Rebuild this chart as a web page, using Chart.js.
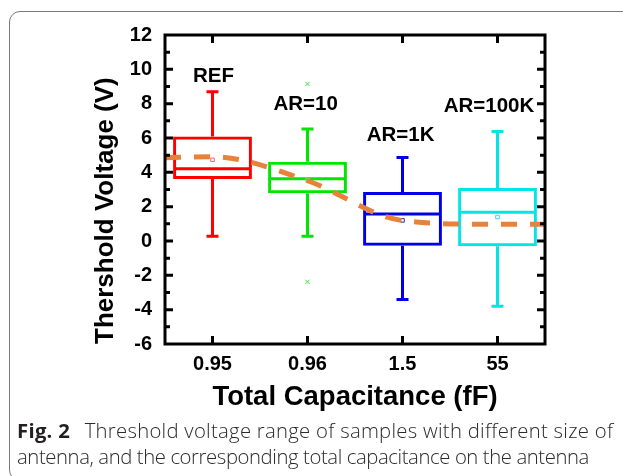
<!DOCTYPE html>
<html>
<head>
<meta charset="utf-8">
<script src="https://cdn.jsdelivr.net/npm/chart.js@4.4.0/dist/chart.umd.min.js"></script>
<style>
  html, body { margin: 0; padding: 0; background: #fff; }
  #wrap { position: relative; width: 623px; height: 476px; overflow: hidden; }
  #frame { position: absolute; left: 9px; top: 11px; width: 680px; height: 470px; border: 1.5px solid #7a7a7a; border-radius: 11px; box-sizing: border-box; }
  #chart { position: absolute; left: 0; top: 0; }
  #caption { position: absolute; left: 17px; top: 417px; font-family: "Open Sans", "Noto Sans", sans-serif; font-weight: 300; font-size: 20.3px; line-height: 26px; color: #2a2a2a; white-space: nowrap; }
  #caption b { font-weight: 700; margin-right: 9px; color: #231f20; }
  #caption .l1 { letter-spacing: 0.28px; }
  #caption .l2 { letter-spacing: -0.4px; }
</style>
</head>
<body>
<div id="wrap">
  <div id="frame"></div>
  <canvas id="chart" width="623" height="476"></canvas>
  <div id="caption"><span class="l1"><b>Fig. 2</b> Threshold voltage range of samples with different size of</span><br><span class="l2">antenna, and the corresponding total capacitance on the antenna</span></div>
</div>
<script>
// ─── Data ─────────────────────────────────────────
const categories  = ["0.95", "0.96", "1.5", "55"];
const groupNames  = ["REF", "AR=10", "AR=1K", "AR=100K"];
const whiskerLow  = [0.27, 0.27, -3.41, -3.80];
const boxLow      = [3.61, 2.78, -0.27, -0.31];
const median      = [4.21, 3.63, 1.58, 1.67];
const boxHigh     = [6.09, 4.62, 2.85, 3.09];
const whiskerHigh = [8.70, 6.52, 4.87, 6.38];
const meanValue   = [4.73, 3.55, 1.20, 1.40];
const outlierCat  = ["0.96", "0.96"];
const outlierVal  = [9.15, -2.38];
const trendPos    = [-0.5, 0, 1, 2, 3, 3.5];
const trendVal    = [4.85, 4.91, 3.51, 1.19, 0.97, 0.97];
const labelX      = [0.01, -0.02, -0.02, -0.09];
const labelY      = [9.62, 7.96, 6.16, 7.87];
const yMin = -6, yMax = 12, yStep = 2;

const boxColors  = ["#ff0000", "#00e600", "#0000e6", "#00e6e6"];
const meanColors = ["#ff6060", "#60ee60", "#303090", "#40d0e0"];
const FONT = "'Liberation Sans', Arial, sans-serif";

Chart.defaults.font.family = FONT;
Chart.defaults.color = "#000";

// ─── Box details, frame, inward ticks, labels ─────
const boxPlotPlugin = {
  id: "boxPlot",
  afterDatasetDraw(chart, args) {
    if (args.index !== 0) return;
    const { ctx, scales: { y } } = chart;
    const meta = chart.getDatasetMeta(0);
    ctx.save();
    ctx.lineWidth = 3;
    ctx.lineCap = "butt";
    meta.data.forEach((bar, i) => {
      const cx = bar.x;
      const half = bar.width / 2;
      const cap = 6;
      const yHi = y.getPixelForValue(whiskerHigh[i]);
      const yLo = y.getPixelForValue(whiskerLow[i]);
      ctx.strokeStyle = boxColors[i];
      ctx.beginPath();
      ctx.moveTo(cx - half + 1.5, y.getPixelForValue(median[i]));
      ctx.lineTo(cx + half - 1.5, y.getPixelForValue(median[i]));
      ctx.moveTo(cx, y.getPixelForValue(boxHigh[i]));
      ctx.lineTo(cx, yHi);
      ctx.moveTo(cx, y.getPixelForValue(boxLow[i]));
      ctx.lineTo(cx, yLo);
      ctx.moveTo(cx - cap, yHi); ctx.lineTo(cx + cap, yHi);
      ctx.moveTo(cx - cap, yLo); ctx.lineTo(cx + cap, yLo);
      ctx.stroke();
    });
    ctx.restore();
  },
  afterDraw(chart) {
    const { ctx, chartArea: a, scales: { x, xt, y } } = chart;
    ctx.save();
    ctx.strokeStyle = "#000";
    ctx.lineWidth = 3;
    ctx.strokeRect(a.left, a.top, a.right - a.left, a.bottom - a.top);
    ctx.beginPath();
    for (let v = yMin + 1; v < yMax; v++) {
      const py = y.getPixelForValue(v);
      const len = v % yStep === 0 ? 8 : 5;
      ctx.moveTo(a.left, py); ctx.lineTo(a.left + len, py);
      ctx.moveTo(a.right, py); ctx.lineTo(a.right - len, py);
    }
    categories.forEach((c, i) => {
      const px = x.getPixelForValue(i);
      ctx.moveTo(px, a.top); ctx.lineTo(px, a.top + 8);
      ctx.moveTo(px, a.bottom); ctx.lineTo(px, a.bottom - 8);
    });
    ctx.stroke();

    ctx.fillStyle = "#000";
    ctx.font = "bold 20.5px " + FONT;
    ctx.textAlign = "center";
    ctx.textBaseline = "middle";
    groupNames.forEach((g, i) => {
      ctx.fillText(g, xt.getPixelForValue(i + labelX[i]), y.getPixelForValue(labelY[i]));
    });
    ctx.restore();
  }
};

new Chart(document.getElementById("chart"), {
  type: "bar",
  data: {
    labels: categories,
    datasets: [
      {
        label: "box",
        data: boxLow.map((v, i) => [v, boxHigh[i]]),
        backgroundColor: "rgba(255,255,255,0)",
        borderColor: boxColors,
        borderWidth: 3,
        borderSkipped: false,
        grouped: false,
        barPercentage: 0.83,
        categoryPercentage: 1,
        order: 3
      },
      {
        type: "line",
        label: "mean",
        data: meanValue,
        showLine: false,
        pointStyle: "rect",
        pointRadius: 2.5,
        borderWidth: 1,
        pointBorderColor: meanColors,
        pointBackgroundColor: "rgba(255,255,255,0)",
        order: 2
      },
      {
        type: "line",
        label: "outliers",
        data: outlierCat.map((c, i) => ({ x: c, y: outlierVal[i] })),
        showLine: false,
        pointStyle: "crossRot",
        pointRadius: 3,
        borderWidth: 1,
        pointBorderColor: "#40dd40",
        order: 2
      },
      {
        type: "line",
        label: "trend",
        xAxisID: "xt",
        data: trendPos.map((p, i) => ({ x: p, y: trendVal[i] })),
        borderColor: "#e8823a",
        borderWidth: 5,
        borderDash: [16, 13],
        pointRadius: 0,
        cubicInterpolationMode: "monotone",
        fill: false,
        order: 0
      }
    ]
  },
  options: {
    responsive: false,
    animation: false,
    devicePixelRatio: 1,
    layout: { padding: { left: 86, top: 35, right: 78, bottom: 0 } },
    plugins: { legend: { display: false }, tooltip: { enabled: false } },
    scales: {
      x: {
        type: "category",
        offset: true,
        grid: { display: false, drawTicks: false },
        border: { display: false },
        ticks: { font: { size: 20, weight: "bold" }, padding: 8 },
        title: { display: true, text: "Total Capacitance (fF)", font: { size: 27.5, weight: "bold" }, padding: { top: 0, bottom: 62 } },
        afterFit: s => { s.height = 476 - 344; }
      },
      xt: { type: "linear", min: -0.5, max: 3.5, offset: false, grid: { offset: false }, display: false },
      y: {
        min: yMin,
        max: yMax,
        grid: { display: false, drawTicks: false },
        border: { display: false },
        ticks: { stepSize: yStep, font: { size: 20, weight: "bold" }, padding: 13 },
        title: { display: true, text: "Thershold Voltage (V)", align: "start", font: { size: 26, weight: "bold" }, padding: { top: 4, bottom: 0 } },
        afterFit: s => { s.width = 165 - 86; }
      }
    }
  },
  plugins: [boxPlotPlugin]
});
</script>
</body>
</html>
